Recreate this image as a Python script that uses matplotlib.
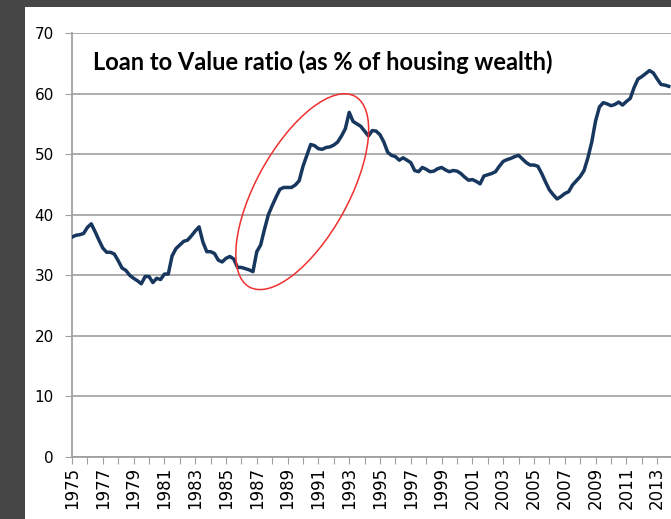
import numpy as np
import matplotlib.pyplot as plt
from matplotlib.patches import Ellipse, Rectangle
from matplotlib.transforms import ScaledTranslation

plt.rcParams["font.family"] = ["DejaVu Sans"]

# Loan to value ratio, quarterly, 1975Q1 .. 2013Q4
ltv = [
    36.3, 36.6, 36.7, 36.9,   # 1975
    37.9, 38.5, 37.2, 35.8,   # 1976
    34.5, 33.8, 33.8, 33.5,   # 1977
    32.4, 31.2, 30.8, 30.0,   # 1978
    29.5, 29.1, 28.6, 29.8,   # 1979
    29.8, 28.8, 29.5, 29.3,   # 1980
    30.2, 30.2, 33.2, 34.4,   # 1981
    35.0, 35.6, 35.8, 36.5,   # 1982
    37.3, 38.0, 35.5, 33.9,   # 1983
    33.9, 33.6, 32.5, 32.2,   # 1984
    32.8, 33.1, 32.7, 31.3,   # 1985
    31.3, 31.1, 30.9, 30.6,   # 1986
    33.9, 35.0, 37.6, 40.0,   # 1987
    41.5, 42.9, 44.2, 44.5,   # 1988
    44.5, 44.5, 44.9, 45.6,   # 1989
    48.0, 49.8, 51.6, 51.4,   # 1990
    50.9, 50.8, 51.1, 51.2,   # 1991
    51.5, 52.0, 53.0, 54.2,   # 1992
    56.9, 55.4, 55.0, 54.6,   # 1993
    53.8, 53.0, 53.9, 53.8,   # 1994
    53.2, 52.0, 50.3, 49.8,   # 1995
    49.6, 49.0, 49.4, 49.0,   # 1996
    48.6, 47.3, 47.1, 47.8,   # 1997
    47.5, 47.1, 47.2, 47.6,   # 1998
    47.8, 47.4, 47.1, 47.3,   # 1999
    47.2, 46.8, 46.2, 45.7,   # 2000
    45.8, 45.5, 45.1, 46.4,   # 2001
    46.6, 46.8, 47.1, 48.0,   # 2002
    48.8, 49.1, 49.3, 49.6,   # 2003
    49.8, 49.2, 48.6, 48.2,   # 2004
    48.2, 48.0, 46.8, 45.4,   # 2005
    44.1, 43.3, 42.6, 43.0,   # 2006
    43.5, 43.8, 44.9, 45.6,   # 2007
    46.3, 47.3, 49.4, 52.0,   # 2008
    55.5, 57.8, 58.5, 58.3,   # 2009
    58.0, 58.2, 58.6, 58.1,   # 2010
    58.7, 59.2, 61.0, 62.4,   # 2011
    62.8, 63.3, 63.8, 63.4,   # 2012
    62.4, 61.5, 61.4, 61.2,   # 2013
]
quarters = 1975 + 0.25 * np.arange(len(ltv))
year_ticks = np.arange(1975, 2014)
year_labels = [str(y) if (y - 1975) % 2 == 0 else "" for y in year_ticks]
y_ticks = [0, 10, 20, 30, 40, 50, 60, 70]

fig = plt.figure(figsize=(6.71, 5.19), dpi=100, facecolor="#464646")
# white slide area
fig.patches.append(Rectangle((25 / 671, 0), 1, (519 - 7) / 519,
                             transform=fig.transFigure, facecolor="white",
                             edgecolor="none", zorder=-10))

ax = fig.add_axes([72 / 671, 1 - 457 / 519, 1 - 72 / 671, 424 / 519])
ax.set_facecolor("none")
ax.plot(quarters, ltv, color="#17375E", lw=2.5, solid_joinstyle="round", zorder=3)

ax.set_xlim(1975, 1975 + (671 - 72) / 15.4)
ax.set_ylim(0, 70)
ax.set_yticks(y_ticks)
ax.set_xticks(year_ticks)
ax.set_xticklabels(year_labels, rotation=90, fontsize=12)
ax.tick_params(axis="y", labelsize=11, length=5, color="#A0A0A0", pad=8)
ax.tick_params(axis="x", length=5, color="#A0A0A0", pad=2)
ax.grid(axis="y", color="#A6A6A6", lw=1.3)
ax.set_axisbelow(True)
for s in ["top", "right"]:
    ax.spines[s].set_visible(False)
for s in ["left", "bottom"]:
    ax.spines[s].set_color("#A0A0A0")
    ax.spines[s].set_linewidth(1.3)

ax.text(0.035, 0.932, "Loan to Value ratio (as % of housing wealth)",
        transform=ax.transAxes, va="center", ha="left",
        fontsize=17, fontweight="bold", family="Lato")

# red ellipse around the late-80s rise
ell = Ellipse((0, 0), 2.18, 0.92, angle=61, fill=False, edgecolor="#F03030", lw=1.1,
              transform=fig.dpi_scale_trans + ScaledTranslation(1989.95, 43.8, ax.transData),
              zorder=4)
ax.add_patch(ell)

fig.savefig("out.png", dpi=100, facecolor=fig.get_facecolor())
